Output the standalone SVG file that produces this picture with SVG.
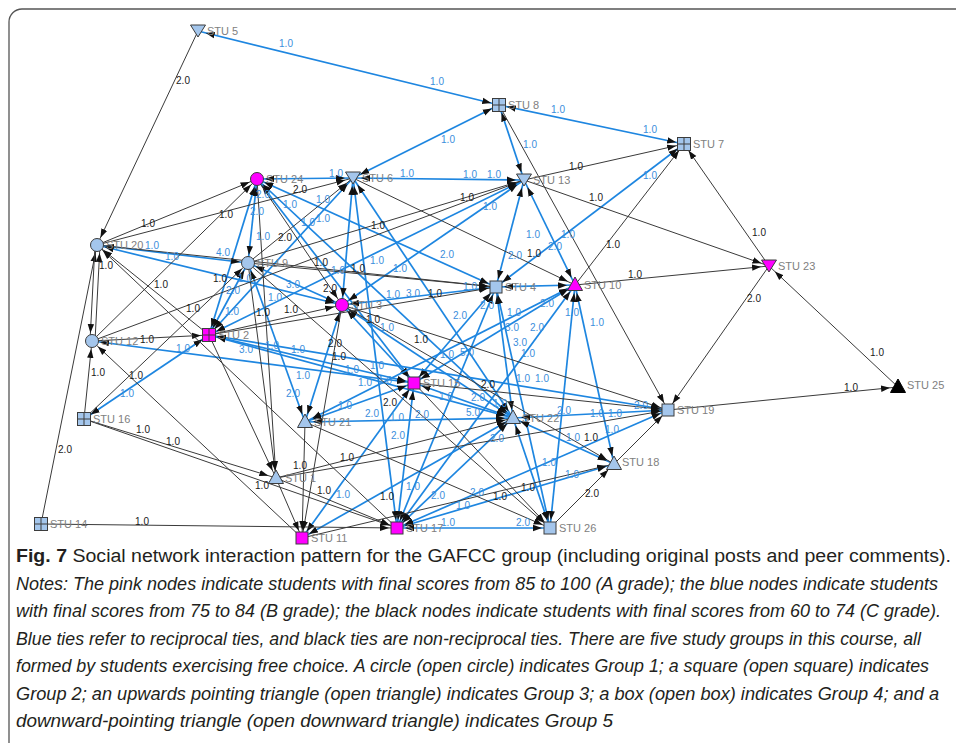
<svg xmlns="http://www.w3.org/2000/svg" xmlns:xlink="http://www.w3.org/1999/xlink" width="956" height="743" viewBox="0 0 956 743">
<style>
.k{stroke:#3a3a3a;stroke-width:1;fill:none;marker-end:url(#ah)}
.b{stroke:#1e86e0;stroke-width:1.7;fill:none;marker-start:url(#ah);marker-end:url(#ah)}
.lb{font-family:"Liberation Sans",Arial,sans-serif;font-size:10px;fill:#3b8edc;text-anchor:middle}
.lk{font-family:"Liberation Sans",Arial,sans-serif;font-size:10px;fill:#1a1a1a;text-anchor:middle}
.nl{font-family:"Liberation Sans",Arial,sans-serif;font-size:11px;fill:#808080}
.bl{fill:#a4c6ec;stroke:#3c3c3c;stroke-width:1}
.pk{fill:#ff00ff;stroke:#3c3c3c;stroke-width:1}
.bk{fill:#000;stroke:#000;stroke-width:1}
.cap{font-family:"Liberation Sans",Arial,sans-serif;font-size:18px;fill:#231f20}
</style>
<defs>
<marker id="ah" markerWidth="18" markerHeight="8" viewBox="0 0 18 8" refX="17" refY="4" orient="auto-start-reverse" markerUnits="userSpaceOnUse"><path d="M0,0.8 L9,4 L0,7.2 z" fill="#111"/></marker>
<circle id="circ" r="6.5"/>
<rect id="sq" x="-6" y="-6" width="12" height="12"/>
<g id="box"><rect x="-6.5" y="-6.5" width="13" height="13"/><path d="M0,-6.5V6.5M-6.5,0H6.5" fill="none"/></g>
<path id="up" d="M0,-8 L7.5,5.5 L-7.5,5.5 Z"/>
<path id="dn" d="M0,6 L7.5,-6 L-7.5,-6 Z"/>
</defs>
<rect width="956" height="743" fill="#fff"/>
<path d="M9,743 V22 A13,13 0 0 1 22,9 H956" fill="none" stroke="#555" stroke-width="1.3"/>

<g id="connectors">
<line class="b" x1="198" y1="31" x2="499" y2="105"/>
<line class="b" x1="499" y1="105" x2="684" y2="144"/>
<line class="b" x1="353" y1="178" x2="499" y2="105"/>
<line class="b" x1="524" y1="180" x2="499" y2="105"/>
<line class="b" x1="496" y1="287" x2="684" y2="144"/>
<line class="b" x1="257" y1="179" x2="353" y2="178"/>
<line class="b" x1="353" y1="178" x2="524" y2="180"/>
<line class="b" x1="524" y1="180" x2="496" y2="287"/>
<line class="b" x1="524" y1="180" x2="575" y2="285"/>
<line class="b" x1="257" y1="179" x2="248" y2="263"/>
<line class="b" x1="257" y1="179" x2="209" y2="335"/>
<line class="b" x1="248" y1="263" x2="209" y2="335"/>
<line class="b" x1="97" y1="245" x2="248" y2="263"/>
<line class="b" x1="97" y1="245" x2="342" y2="305"/>
<line class="b" x1="248" y1="263" x2="342" y2="305"/>
<line class="b" x1="257" y1="179" x2="414" y2="383"/>
<line class="b" x1="257" y1="179" x2="513" y2="418"/>
<line class="b" x1="257" y1="179" x2="496" y2="287"/>
<line class="b" x1="342" y1="305" x2="524" y2="180"/>
<line class="b" x1="209" y1="335" x2="524" y2="180"/>
<line class="b" x1="342" y1="305" x2="353" y2="178"/>
<line class="b" x1="209" y1="335" x2="353" y2="178"/>
<line class="b" x1="353" y1="178" x2="397" y2="528"/>
<line class="b" x1="353" y1="178" x2="513" y2="418"/>
<line class="b" x1="342" y1="305" x2="496" y2="287"/>
<line class="b" x1="496" y1="287" x2="575" y2="285"/>
<line class="b" x1="496" y1="287" x2="414" y2="383"/>
<line class="b" x1="496" y1="287" x2="397" y2="528"/>
<line class="b" x1="496" y1="287" x2="513" y2="418"/>
<line class="b" x1="496" y1="287" x2="550" y2="528"/>
<line class="b" x1="209" y1="335" x2="414" y2="383"/>
<line class="b" x1="209" y1="335" x2="513" y2="418"/>
<line class="b" x1="209" y1="335" x2="668" y2="410"/>
<line class="b" x1="92" y1="341" x2="414" y2="383"/>
<line class="b" x1="84" y1="419" x2="209" y2="335"/>
<line class="b" x1="248" y1="263" x2="305" y2="422"/>
<line class="b" x1="342" y1="305" x2="305" y2="422"/>
<line class="b" x1="342" y1="305" x2="513" y2="418"/>
<line class="b" x1="342" y1="305" x2="414" y2="383"/>
<line class="b" x1="305" y1="422" x2="575" y2="285"/>
<line class="b" x1="414" y1="383" x2="575" y2="285"/>
<line class="b" x1="397" y1="528" x2="575" y2="285"/>
<line class="b" x1="614" y1="464" x2="575" y2="285"/>
<line class="b" x1="550" y1="528" x2="575" y2="285"/>
<line class="b" x1="414" y1="383" x2="513" y2="418"/>
<line class="b" x1="305" y1="422" x2="513" y2="418"/>
<line class="b" x1="305" y1="422" x2="414" y2="383"/>
<line class="b" x1="513" y1="418" x2="668" y2="410"/>
<line class="b" x1="513" y1="418" x2="614" y2="464"/>
<line class="b" x1="397" y1="528" x2="513" y2="418"/>
<line class="b" x1="513" y1="418" x2="550" y2="528"/>
<line class="b" x1="397" y1="528" x2="668" y2="410"/>
<line class="b" x1="397" y1="528" x2="614" y2="464"/>
<line class="b" x1="397" y1="528" x2="550" y2="528"/>
<line class="b" x1="414" y1="383" x2="397" y2="528"/>
<line class="b" x1="302" y1="538" x2="414" y2="383"/>
<line class="b" x1="302" y1="538" x2="513" y2="418"/>

<line class="k" x1="198" y1="31" x2="97" y2="245"/>
<line class="k" x1="41" y1="524" x2="97" y2="245"/>
<line class="k" x1="41" y1="524" x2="397" y2="528"/>
<line class="k" x1="524" y1="180" x2="684" y2="144"/>
<line class="k" x1="575" y1="285" x2="684" y2="144"/>
<line class="k" x1="769" y1="266" x2="684" y2="144"/>
<line class="k" x1="524" y1="180" x2="769" y2="266"/>
<line class="k" x1="575" y1="285" x2="769" y2="266"/>
<line class="k" x1="898" y1="387" x2="769" y2="266"/>
<line class="k" x1="769" y1="266" x2="668" y2="410"/>
<line class="k" x1="668" y1="410" x2="898" y2="387"/>
<line class="k" x1="499" y1="105" x2="668" y2="410"/>
<line class="k" x1="614" y1="464" x2="668" y2="410"/>
<line class="k" x1="353" y1="178" x2="575" y2="285"/>
<line class="k" x1="97" y1="245" x2="257" y2="179"/>
<line class="k" x1="92" y1="341" x2="257" y2="179"/>
<line class="k" x1="97" y1="245" x2="353" y2="178"/>
<line class="k" x1="248" y1="263" x2="353" y2="178"/>
<line class="k" x1="248" y1="263" x2="524" y2="180"/>
<line class="k" x1="92" y1="341" x2="524" y2="180"/>
<line class="k" x1="248" y1="263" x2="496" y2="287"/>
<line class="k" x1="97" y1="245" x2="496" y2="287"/>
<line class="k" x1="209" y1="335" x2="496" y2="287"/>
<line class="k" x1="209" y1="335" x2="342" y2="305"/>
<line class="k" x1="257" y1="179" x2="342" y2="305"/>
<line class="k" x1="95" y1="245" x2="90" y2="341"/>
<line class="k" x1="95" y1="341" x2="100" y2="245"/>
<line class="k" x1="84" y1="419" x2="92" y2="341"/>
<line class="k" x1="302" y1="538" x2="92" y2="341"/>
<line class="k" x1="92" y1="341" x2="209" y2="335"/>
<line class="k" x1="209" y1="335" x2="97" y2="245"/>
<line class="k" x1="397" y1="528" x2="97" y2="245"/>
<line class="k" x1="84" y1="419" x2="276" y2="478"/>
<line class="k" x1="84" y1="419" x2="397" y2="528"/>
<line class="k" x1="84" y1="419" x2="248" y2="263"/>
<line class="k" x1="302" y1="538" x2="614" y2="464"/>
<line class="k" x1="550" y1="528" x2="614" y2="464"/>
<line class="k" x1="414" y1="383" x2="668" y2="410"/>
<line class="k" x1="248" y1="263" x2="276" y2="478"/>
<line class="k" x1="257" y1="179" x2="276" y2="478"/>
<line class="k" x1="209" y1="335" x2="276" y2="478"/>
<line class="k" x1="276" y1="478" x2="302" y2="538"/>
<line class="k" x1="305" y1="422" x2="302" y2="538"/>
<line class="k" x1="342" y1="305" x2="302" y2="538"/>
<line class="k" x1="276" y1="478" x2="513" y2="418"/>
<line class="k" x1="276" y1="478" x2="397" y2="528"/>
<line class="k" x1="276" y1="478" x2="668" y2="410"/>
<line class="k" x1="342" y1="305" x2="668" y2="410"/>
<line class="k" x1="342" y1="305" x2="614" y2="464"/>
<line class="k" x1="305" y1="422" x2="550" y2="528"/>
<line class="k" x1="414" y1="383" x2="550" y2="528"/>
<line class="k" x1="248" y1="263" x2="550" y2="528"/>
</g>

<g id="edge-labels">
<text class="lk" x="183" y="84">2.0</text>
<text class="lb" x="286" y="47">1.0</text>
<text class="lb" x="437" y="85">1.0</text>
<text class="lb" x="558" y="113">1.0</text>
<text class="lb" x="448" y="143">1.0</text>
<text class="lb" x="530" y="148">1.0</text>
<text class="lk" x="576" y="170">1.0</text>
<text class="lb" x="336" y="177">1.0</text>
<text class="lb" x="407" y="177">1.0</text>
<text class="lb" x="470" y="178">1.0</text>
<text class="lb" x="494" y="178">1.0</text>
<text class="lb" x="650" y="133">1.0</text>
<text class="lb" x="650" y="179">1.0</text>
<text class="lb" x="263" y="198">2.0</text>
<text class="lb" x="290" y="208">1.0</text>
<text class="lk" x="300" y="193">2.0</text>
<text class="lk" x="148" y="227">1.0</text>
<text class="lk" x="226" y="218">1.0</text>
<text class="lb" x="308" y="226">1.0</text>
<text class="lb" x="257" y="215">2.0</text>
<text class="lb" x="263" y="240">1.0</text>
<text class="lk" x="285" y="241">2.0</text>
<text class="lb" x="152" y="249">1.0</text>
<text class="lb" x="172" y="260">1.0</text>
<text class="lb" x="223" y="256">4.0</text>
<text class="lk" x="106" y="269">1.0</text>
<text class="lk" x="161" y="288">1.0</text>
<text class="lk" x="220" y="282">1.0</text>
<text class="lb" x="245" y="282">1.0</text>
<text class="lb" x="233" y="294">2.0</text>
<text class="lb" x="293" y="288">3.0</text>
<text class="lb" x="275" y="301">1.0</text>
<text class="lk" x="193" y="312">1.0</text>
<text class="lb" x="232" y="315">1.0</text>
<text class="lk" x="263" y="316">1.0</text>
<text class="lk" x="291" y="313">1.0</text>
<text class="lk" x="147" y="343">1.0</text>
<text class="lb" x="183" y="352">1.0</text>
<text class="lb" x="246" y="353">3.0</text>
<text class="lb" x="272" y="349">1.0</text>
<text class="lb" x="298" y="353">1.0</text>
<text class="lb" x="323" y="203">1.0</text>
<text class="lb" x="323" y="222">1.0</text>
<text class="lk" x="467" y="201">1.0</text>
<text class="lb" x="490" y="210">1.0</text>
<text class="lk" x="378" y="229">1.0</text>
<text class="lb" x="377" y="264">1.0</text>
<text class="lb" x="400" y="272">1.0</text>
<text class="lb" x="447" y="258">2.0</text>
<text class="lb" x="533" y="238">1.0</text>
<text class="lb" x="515" y="259">2.0</text>
<text class="lk" x="534" y="257">1.0</text>
<text class="lb" x="555" y="250">2.0</text>
<text class="lb" x="568" y="238">1.0</text>
<text class="lk" x="596" y="201">1.0</text>
<text class="lk" x="613" y="248">1.0</text>
<text class="lk" x="321" y="266">1.0</text>
<text class="lb" x="338" y="274">1.0</text>
<text class="lk" x="358" y="272">1.0</text>
<text class="lk" x="330" y="292">2.0</text>
<text class="lb" x="393" y="298">1.0</text>
<text class="lb" x="413" y="297">3.0</text>
<text class="lk" x="435" y="297">1.0</text>
<text class="lb" x="470" y="290">1.0</text>
<text class="lk" x="373" y="323">1.0</text>
<text class="lb" x="387" y="331">1.0</text>
<text class="lk" x="421" y="343">1.0</text>
<text class="lb" x="460" y="319">2.0</text>
<text class="lb" x="487" y="309">2.0</text>
<text class="lb" x="514" y="316">1.0</text>
<text class="lb" x="512" y="331">3.0</text>
<text class="lb" x="537" y="331">2.0</text>
<text class="lb" x="520" y="346">3.0</text>
<text class="lb" x="528" y="357">1.0</text>
<text class="lb" x="467" y="356">5.0</text>
<text class="lb" x="447" y="358">1.0</text>
<text class="lb" x="572" y="316">1.0</text>
<text class="lb" x="597" y="326">1.0</text>
<text class="lb" x="547" y="307">2.0</text>
<text class="lk" x="335" y="347">2.0</text>
<text class="lk" x="339" y="360">1.0</text>
<text class="lk" x="759" y="236">1.0</text>
<text class="lk" x="635" y="278">1.0</text>
<text class="lk" x="754" y="302">2.0</text>
<text class="lk" x="877" y="356">1.0</text>
<text class="lk" x="98" y="376">1.0</text>
<text class="lk" x="136" y="379">1.0</text>
<text class="lb" x="127" y="397">1.0</text>
<text class="lb" x="303" y="379">1.0</text>
<text class="lb" x="293" y="397">2.0</text>
<text class="lk" x="143" y="433">1.0</text>
<text class="lk" x="173" y="445">1.0</text>
<text class="lk" x="65" y="453">2.0</text>
<text class="lk" x="300" y="469">1.0</text>
<text class="lk" x="262" y="489">1.0</text>
<text class="lk" x="324" y="494">1.0</text>
<text class="lk" x="142" y="525">1.0</text>
<text class="lb" x="352" y="373">1.0</text>
<text class="lb" x="377" y="369">1.0</text>
<text class="lb" x="365" y="386">1.0</text>
<text class="lb" x="385" y="384">1.0</text>
<text class="lb" x="345" y="409">1.0</text>
<text class="lb" x="372" y="417">2.0</text>
<text class="lk" x="390" y="406">2.0</text>
<text class="lb" x="397" y="421">1.0</text>
<text class="lb" x="422" y="418">2.0</text>
<text class="lb" x="446" y="400">1.0</text>
<text class="lb" x="478" y="401">2.0</text>
<text class="lb" x="473" y="416">5.0</text>
<text class="lk" x="488" y="388">2.0</text>
<text class="lb" x="500" y="407">1.0</text>
<text class="lb" x="523" y="382">1.0</text>
<text class="lb" x="542" y="382">1.0</text>
<text class="lb" x="564" y="414">2.0</text>
<text class="lb" x="597" y="417">1.0</text>
<text class="lb" x="615" y="417">1.0</text>
<text class="lb" x="573" y="441">1.0</text>
<text class="lk" x="591" y="441">1.0</text>
<text class="lb" x="612" y="433">1.0</text>
<text class="lb" x="549" y="466">1.0</text>
<text class="lb" x="572" y="478">1.0</text>
<text class="lk" x="528" y="491">1.0</text>
<text class="lk" x="592" y="497">2.0</text>
<text class="lk" x="500" y="500">1.0</text>
<text class="lb" x="477" y="496">2.0</text>
<text class="lb" x="463" y="509">1.0</text>
<text class="lb" x="438" y="499">2.0</text>
<text class="lb" x="413" y="490">1.0</text>
<text class="lk" x="387" y="500">1.0</text>
<text class="lb" x="343" y="498">1.0</text>
<text class="lb" x="398" y="439">2.0</text>
<text class="lk" x="347" y="461">1.0</text>
<text class="lb" x="497" y="442">2.0</text>
<text class="lb" x="448" y="526">1.0</text>
<text class="lb" x="523" y="526">2.0</text>
<text class="lb" x="641" y="409">2.0</text>
<text class="lk" x="851" y="391">1.0</text>
</g>

<g id="stu1"><use href="#up" x="276" y="478" class="bl"/><text class="nl" x="285" y="482">STU 1</text></g>
<g id="stu2"><use href="#box" x="209" y="335" class="pk"/><text class="nl" x="218" y="339">STU 2</text></g>
<g id="stu3"><use href="#circ" x="342" y="305" class="pk"/><text class="nl" x="351" y="309">STU 3</text></g>
<g id="stu4"><use href="#sq" x="496" y="287" class="bl"/><text class="nl" x="505" y="291">STU 4</text></g>
<g id="stu5"><use href="#dn" x="198" y="31" class="bl"/><text class="nl" x="207" y="35">STU 5</text></g>
<g id="stu6"><use href="#dn" x="353" y="178" class="bl"/><text class="nl" x="362" y="182">STU 6</text></g>
<g id="stu7"><use href="#box" x="684" y="144" class="bl"/><text class="nl" x="693" y="148">STU 7</text></g>
<g id="stu8"><use href="#box" x="499" y="105" class="bl"/><text class="nl" x="508" y="109">STU 8</text></g>
<g id="stu9"><use href="#circ" x="248" y="263" class="bl"/><text class="nl" x="257" y="267">STU 9</text></g>
<g id="stu10"><use href="#up" x="575" y="285" class="pk"/><text class="nl" x="584" y="289">STU 10</text></g>
<g id="stu11"><use href="#sq" x="302" y="538" class="pk"/><text class="nl" x="311" y="542">STU 11</text></g>
<g id="stu12"><use href="#circ" x="92" y="341" class="bl"/><text class="nl" x="101" y="345">STU 12</text></g>
<g id="stu13"><use href="#dn" x="524" y="180" class="bl"/><text class="nl" x="533" y="184">STU 13</text></g>
<g id="stu14"><use href="#box" x="41" y="524" class="bl"/><text class="nl" x="50" y="528">STU 14</text></g>
<g id="stu15"><use href="#sq" x="414" y="383" class="pk"/><text class="nl" x="423" y="387">STU 15</text></g>
<g id="stu16"><use href="#box" x="84" y="419" class="bl"/><text class="nl" x="93" y="423">STU 16</text></g>
<g id="stu17"><use href="#sq" x="397" y="528" class="pk"/><text class="nl" x="406" y="532">STU 17</text></g>
<g id="stu18"><use href="#up" x="614" y="464" class="bl"/><text class="nl" x="622" y="466">STU 18</text></g>
<g id="stu19"><use href="#sq" x="668" y="410" class="bl"/><text class="nl" x="677" y="414">STU 19</text></g>
<g id="stu20"><use href="#circ" x="97" y="245" class="bl"/><text class="nl" x="106" y="249">STU 20</text></g>
<g id="stu21"><use href="#up" x="305" y="422" class="bl"/><text class="nl" x="314" y="426">STU 21</text></g>
<g id="stu22"><use href="#up" x="513" y="418" class="bl"/><text class="nl" x="522" y="422">STU 22</text></g>
<g id="stu23"><use href="#dn" x="769" y="266" class="pk"/><text class="nl" x="778" y="270">STU 23</text></g>
<g id="stu24"><use href="#circ" x="257" y="179" class="pk"/><text class="nl" x="266" y="183">STU 24</text></g>
<g id="stu25"><use href="#up" x="898" y="387" class="bk"/><text class="nl" x="907" y="389">STU 25</text></g>
<g id="stu26"><use href="#sq" x="550" y="528" class="bl"/><text class="nl" x="559" y="532">STU 26</text></g>

<g id="caption">
<text class="cap" x="16" y="562" textLength="935" lengthAdjust="spacingAndGlyphs"><tspan font-weight="bold">Fig. 7</tspan>  Social network interaction pattern for the GAFCC group (including original posts and peer comments).</text>
<text class="cap" x="16" y="590" textLength="922" lengthAdjust="spacingAndGlyphs" font-style="italic">Notes: The pink nodes indicate students with final scores from 85 to 100 (A grade); the blue nodes indicate students</text>
<text class="cap" x="16" y="617" textLength="925" lengthAdjust="spacingAndGlyphs" font-style="italic">with final scores from 75 to 84 (B grade); the black nodes indicate students with final scores from 60 to 74 (C grade).</text>
<text class="cap" x="16" y="645" textLength="905" lengthAdjust="spacingAndGlyphs" font-style="italic">Blue ties refer to reciprocal ties, and black ties are non-reciprocal ties. There are five study groups in this course, all</text>
<text class="cap" x="16" y="672" textLength="913" lengthAdjust="spacingAndGlyphs" font-style="italic">formed by students exercising free choice. A circle (open circle) indicates Group 1; a square (open square) indicates</text>
<text class="cap" x="16" y="700" textLength="923" lengthAdjust="spacingAndGlyphs" font-style="italic">Group 2; an upwards pointing triangle (open triangle) indicates Group 3; a box (open box) indicates Group 4; and a</text>
<text class="cap" x="16" y="727" textLength="597" lengthAdjust="spacingAndGlyphs" font-style="italic">downward-pointing triangle (open downward triangle) indicates Group 5</text>
</g>
</svg>
